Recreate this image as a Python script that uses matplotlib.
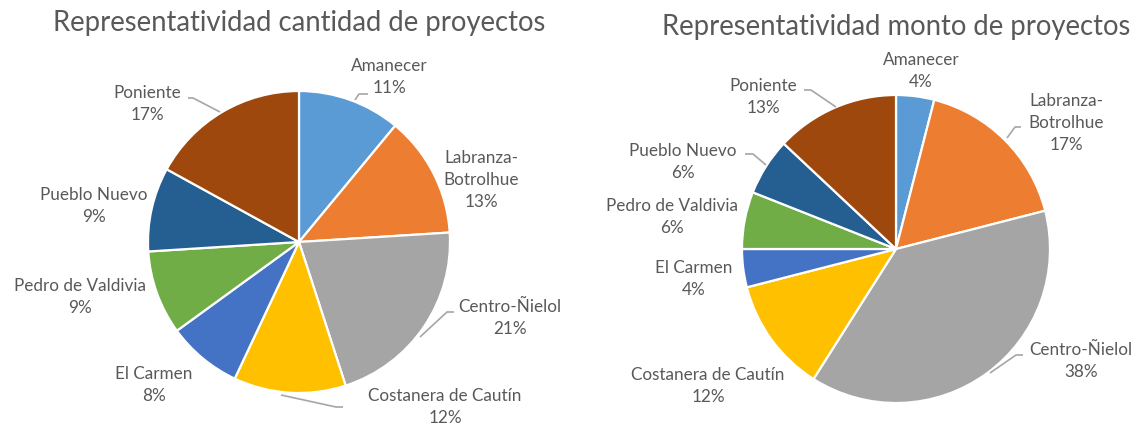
import matplotlib
matplotlib.use("Agg")
import matplotlib.pyplot as plt

plt.rcParams['font.family'] = ['Lato', 'DejaVu Sans']

W, H = 1135, 425

districts = ["Amanecer", "Labranza-\nBotrolhue", "Centro-Ñielol", "Costanera de Cautín",
             "El Carmen", "Pedro de Valdivia", "Pueblo Nuevo", "Poniente"]
colors = ["#5B9BD5", "#ED7D31", "#A5A5A5", "#FFC000",
          "#4472C4", "#70AD47", "#255E91", "#9E480E"]

cantidad = [11, 13, 21, 12, 8, 9, 9, 17]
monto = [4, 17, 38, 12, 4, 6, 6, 13]

titles = ["Representatividad cantidad de proyectos", "Representatividad monto de proyectos"]

# layout in pixels (top-left origin)
pie_centers = [(299, 242), (896, 249)]
pie_radius = [151, 154]
title_pos = [(299, 23), (896, 27)]

label_pos_left = [(389, 77), (481, 180), (510, 318), (445, 407),
                  (154, 385), (80, 297), (94, 206), (147, 104)]
label_pos_right = [(921, 71), (1066, 123), (1081, 361), (708, 386),
                   (694, 279), (672, 217), (683, 162), (763, 97)]

leaders_left = [
    [(355, 100), (359, 94), (368, 94)],
    [(420, 337), (447, 312), (454, 312)],
    [(281, 395), (336, 407), (343, 407)],
    [(220, 112), (193, 98), (188, 98)],
]
leaders_right = [
    [(836, 107), (811, 90), (804, 90)],
    [(766, 165), (753, 154), (745, 154)],
    [(1007, 138), (1015, 127), (1021, 127)],
    [(990, 373), (1016, 355), (1023, 355)],
]

text_color = "#595959"
line_color = "#A6A6A6"


def flip(p):
    return p[0], H - p[1]


fig = plt.figure(figsize=(W / 100, H / 100), dpi=100)
ax = fig.add_axes([0, 0, 1, 1])

sets = [(cantidad, label_pos_left, leaders_left), (monto, label_pos_right, leaders_right)]

for i, (values, lpos, leaders) in enumerate(sets):
    cx, cy = flip(pie_centers[i])
    ax.pie(values, colors=colors, startangle=90, counterclock=False,
           center=(cx, cy), radius=pie_radius[i], frame=True,
           wedgeprops=dict(edgecolor='white', linewidth=1.6))

    for name, v, p in zip(districts, values, lpos):
        x, y = flip(p)
        ax.text(x, y, f"{name}\n{v}%", ha='center', va='center',
                fontsize=12.3, color=text_color, linespacing=1.45)

    for seg in leaders:
        xs = [flip(q)[0] for q in seg]
        ys = [flip(q)[1] for q in seg]
        ax.plot(xs, ys, color=line_color, lw=1.2, solid_capstyle='butt')

    tx, ty = flip(title_pos[i])
    ax.text(tx, ty, titles[i], ha='center', va='center', fontsize=19.8, color=text_color)

ax.set_xlim(0, W)
ax.set_ylim(0, H)
ax.set_aspect('auto')
ax.axis('off')

fig.savefig("out.png", dpi=100)
